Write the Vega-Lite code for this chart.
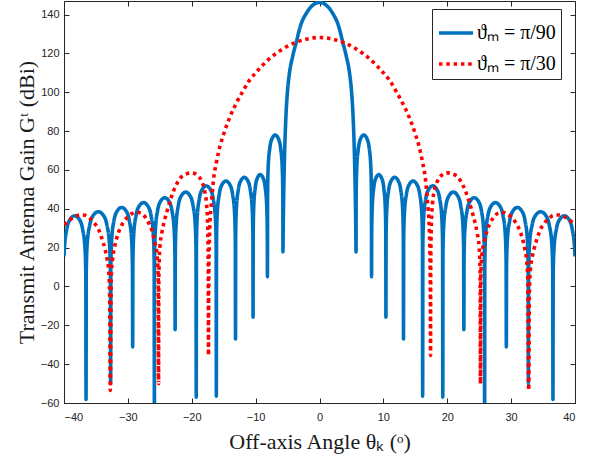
{
"$schema": "https://vega.github.io/schema/vega-lite/v6.json",
"width": 511, "height": 402,
"autosize": {"type": "none"},
"padding": {"left": 64, "top": 1, "right": 21, "bottom": 60},
"background": "white",
"config": {
 "view": {"stroke": null},
 "axis": {"domainColor": "#262626", "domainWidth": 1, "tickColor": "#262626", "tickWidth": 1, "tickSize": -5, "labelFont": "Liberation Sans", "labelFontSize": 11, "labelColor": "#262626", "titleFont": "Liberation Serif", "titleFontSize": 22, "titleFontWeight": "normal", "titleColor": "#1a1a1a", "grid": false}
},
"data": {"values": [
{"s":"π/90","x":-40,"g":15.5},{"s":"π/90","x":-39.923,"g":20.3},{"s":"π/90","x":-39.568,"g":29.5},{"s":"π/90","x":-39.035,"g":34.6},{"s":"π/90","x":-38.325,"g":36.4},{"s":"π/90","x":-37.615,"g":34.6},{"s":"π/90","x":-37.083,"g":29.5},{"s":"π/90","x":-36.728,"g":20.3},{"s":"π/90","x":-36.586,"g":6.3},{"s":"π/90","x":-36.55,"g":-58.2},
{"s":"π/90","x":-36.512,"g":8.4},{"s":"π/90","x":-36.358,"g":22.4},{"s":"π/90","x":-35.973,"g":31.6},{"s":"π/90","x":-35.395,"g":36.7},{"s":"π/90","x":-34.625,"g":38.5},{"s":"π/90","x":-33.855,"g":36.7},{"s":"π/90","x":-33.278,"g":31.6},{"s":"π/90","x":-32.893,"g":22.4},{"s":"π/90","x":-32.739,"g":8.4},{"s":"π/90","x":-32.7,"g":-50},
{"s":"π/90","x":-32.666,"g":10.6},{"s":"π/90","x":-32.528,"g":24.6},{"s":"π/90","x":-32.183,"g":33.8},{"s":"π/90","x":-31.665,"g":38.9},{"s":"π/90","x":-30.975,"g":40.7},{"s":"π/90","x":-30.285,"g":38.9},{"s":"π/90","x":-29.768,"g":33.8},{"s":"π/90","x":-29.423,"g":24.6},{"s":"π/90","x":-29.285,"g":10.6},{"s":"π/90","x":-29.25,"g":-31.1},
{"s":"π/90","x":-29.216,"g":13.1},{"s":"π/90","x":-29.08,"g":27.1},{"s":"π/90","x":-28.74,"g":36.3},{"s":"π/90","x":-28.23,"g":41.4},{"s":"π/90","x":-27.55,"g":43.2},{"s":"π/90","x":-26.87,"g":41.4},{"s":"π/90","x":-26.36,"g":36.3},{"s":"π/90","x":-26.02,"g":27.1},{"s":"π/90","x":-25.884,"g":13.1},{"s":"π/90","x":-25.85,"g":-75},
{"s":"π/90","x":-25.818,"g":15.6},{"s":"π/90","x":-25.688,"g":29.6},{"s":"π/90","x":-25.363,"g":38.8},{"s":"π/90","x":-24.875,"g":43.9},{"s":"π/90","x":-24.225,"g":45.7},{"s":"π/90","x":-23.575,"g":43.9},{"s":"π/90","x":-23.088,"g":38.8},{"s":"π/90","x":-22.763,"g":29.6},{"s":"π/90","x":-22.633,"g":15.6},{"s":"π/90","x":-22.6,"g":-22.2},
{"s":"π/90","x":-22.567,"g":18.5},{"s":"π/90","x":-22.435,"g":32.5},{"s":"π/90","x":-22.105,"g":41.7},{"s":"π/90","x":-21.61,"g":46.8},{"s":"π/90","x":-20.95,"g":48.6},{"s":"π/90","x":-20.29,"g":46.8},{"s":"π/90","x":-19.795,"g":41.7},{"s":"π/90","x":-19.465,"g":32.5},{"s":"π/90","x":-19.333,"g":18.5},{"s":"π/90","x":-19.3,"g":-57},
{"s":"π/90","x":-19.269,"g":21.7},{"s":"π/90","x":-19.143,"g":35.7},{"s":"π/90","x":-18.828,"g":44.9},{"s":"π/90","x":-18.355,"g":50.0},{"s":"π/90","x":-17.725,"g":51.8},{"s":"π/90","x":-17.095,"g":50.0},{"s":"π/90","x":-16.623,"g":44.9},{"s":"π/90","x":-16.308,"g":35.7},{"s":"π/90","x":-16.182,"g":21.7},{"s":"π/90","x":-16.15,"g":-56.5},
{"s":"π/90","x":-16.12,"g":24.2},{"s":"π/90","x":-16.0,"g":38.2},{"s":"π/90","x":-15.7,"g":47.4},{"s":"π/90","x":-15.25,"g":52.5},{"s":"π/90","x":-14.65,"g":54.3},{"s":"π/90","x":-14.05,"g":52.5},{"s":"π/90","x":-13.6,"g":47.4},{"s":"π/90","x":-13.3,"g":38.2},{"s":"π/90","x":-13.18,"g":24.2},{"s":"π/90","x":-13.15,"g":-27},
{"s":"π/90","x":-13.123,"g":26.1},{"s":"π/90","x":-13.013,"g":40.1},{"s":"π/90","x":-12.738,"g":49.3},{"s":"π/90","x":-12.325,"g":54.4},{"s":"π/90","x":-11.775,"g":56.2},{"s":"π/90","x":-11.225,"g":54.4},{"s":"π/90","x":-10.813,"g":49.3},{"s":"π/90","x":-10.538,"g":40.1},{"s":"π/90","x":-10.428,"g":26.1},{"s":"π/90","x":-10.4,"g":-15.8},
{"s":"π/90","x":-10.378,"g":27.5},{"s":"π/90","x":-10.288,"g":41.5},{"s":"π/90","x":-10.063,"g":50.7},{"s":"π/90","x":-9.725,"g":55.8},{"s":"π/90","x":-9.275,"g":57.6},{"s":"π/90","x":-8.825,"g":55.8},{"s":"π/90","x":-8.488,"g":50.7},{"s":"π/90","x":-8.263,"g":41.5},{"s":"π/90","x":-8.173,"g":27.5},{"s":"π/90","x":-8.15,"g":5.0},
{"s":"π/90","x":-8.126,"g":47.9},{"s":"π/90","x":-8.029,"g":61.9},{"s":"π/90","x":-7.786,"g":71.1},{"s":"π/90","x":-7.421,"g":76.2},{"s":"π/90","x":-6.935,"g":78},{"s":"π/90","x":-6.449,"g":76.2},{"s":"π/90","x":-6.085,"g":71.1},{"s":"π/90","x":-5.842,"g":61.9},{"s":"π/90","x":-5.744,"g":47.9},{"s":"π/90","x":-5.72,"g":17.8},
{"s":"π/90","x":-5.68,"g":30},{"s":"π/90","x":-5.6,"g":48},{"s":"π/90","x":-5.45,"g":70},{"s":"π/90","x":-5.25,"g":88},{"s":"π/90","x":-5.0,"g":101},{"s":"π/90","x":-4.7,"g":110},{"s":"π/90","x":-4.2,"g":118.5},{"s":"π/90","x":-3.65,"g":125.6},{"s":"π/90","x":-3,"g":134},{"s":"π/90","x":-2,"g":141},{"s":"π/90","x":-1,"g":145},
{"s":"π/90","x":0,"g":146.3},
{"s":"π/90","x":1,"g":145},{"s":"π/90","x":2,"g":141},{"s":"π/90","x":3,"g":134},{"s":"π/90","x":3.65,"g":125.6},{"s":"π/90","x":4.2,"g":118.5},{"s":"π/90","x":4.7,"g":110},{"s":"π/90","x":5.0,"g":101},{"s":"π/90","x":5.25,"g":88},{"s":"π/90","x":5.45,"g":70},{"s":"π/90","x":5.6,"g":48},{"s":"π/90","x":5.68,"g":30},
{"s":"π/90","x":5.72,"g":17.8},{"s":"π/90","x":5.744,"g":47.9},{"s":"π/90","x":5.842,"g":61.9},{"s":"π/90","x":6.085,"g":71.1},{"s":"π/90","x":6.449,"g":76.2},{"s":"π/90","x":6.935,"g":78},{"s":"π/90","x":7.421,"g":76.2},{"s":"π/90","x":7.786,"g":71.1},{"s":"π/90","x":8.029,"g":61.9},{"s":"π/90","x":8.126,"g":47.9},
{"s":"π/90","x":8.15,"g":5.0},{"s":"π/90","x":8.173,"g":27.5},{"s":"π/90","x":8.263,"g":41.5},{"s":"π/90","x":8.488,"g":50.7},{"s":"π/90","x":8.825,"g":55.8},{"s":"π/90","x":9.275,"g":57.6},{"s":"π/90","x":9.725,"g":55.8},{"s":"π/90","x":10.063,"g":50.7},{"s":"π/90","x":10.288,"g":41.5},{"s":"π/90","x":10.378,"g":27.5},
{"s":"π/90","x":10.4,"g":-15.8},{"s":"π/90","x":10.428,"g":26.1},{"s":"π/90","x":10.538,"g":40.1},{"s":"π/90","x":10.813,"g":49.3},{"s":"π/90","x":11.225,"g":54.4},{"s":"π/90","x":11.775,"g":56.2},{"s":"π/90","x":12.325,"g":54.4},{"s":"π/90","x":12.738,"g":49.3},{"s":"π/90","x":13.013,"g":40.1},{"s":"π/90","x":13.123,"g":26.1},
{"s":"π/90","x":13.15,"g":-27},{"s":"π/90","x":13.18,"g":24.2},{"s":"π/90","x":13.3,"g":38.2},{"s":"π/90","x":13.6,"g":47.4},{"s":"π/90","x":14.05,"g":52.5},{"s":"π/90","x":14.65,"g":54.3},{"s":"π/90","x":15.25,"g":52.5},{"s":"π/90","x":15.7,"g":47.4},{"s":"π/90","x":16.0,"g":38.2},{"s":"π/90","x":16.12,"g":24.2},
{"s":"π/90","x":16.15,"g":-56.5},{"s":"π/90","x":16.182,"g":21.7},{"s":"π/90","x":16.308,"g":35.7},{"s":"π/90","x":16.623,"g":44.9},{"s":"π/90","x":17.095,"g":50.0},{"s":"π/90","x":17.725,"g":51.8},{"s":"π/90","x":18.355,"g":50.0},{"s":"π/90","x":18.828,"g":44.9},{"s":"π/90","x":19.143,"g":35.7},{"s":"π/90","x":19.269,"g":21.7},
{"s":"π/90","x":19.3,"g":-57},{"s":"π/90","x":19.333,"g":18.5},{"s":"π/90","x":19.465,"g":32.5},{"s":"π/90","x":19.795,"g":41.7},{"s":"π/90","x":20.29,"g":46.8},{"s":"π/90","x":20.95,"g":48.6},{"s":"π/90","x":21.61,"g":46.8},{"s":"π/90","x":22.105,"g":41.7},{"s":"π/90","x":22.435,"g":32.5},{"s":"π/90","x":22.567,"g":18.5},
{"s":"π/90","x":22.6,"g":-22.2},{"s":"π/90","x":22.633,"g":15.6},{"s":"π/90","x":22.763,"g":29.6},{"s":"π/90","x":23.088,"g":38.8},{"s":"π/90","x":23.575,"g":43.9},{"s":"π/90","x":24.225,"g":45.7},{"s":"π/90","x":24.875,"g":43.9},{"s":"π/90","x":25.363,"g":38.8},{"s":"π/90","x":25.688,"g":29.6},{"s":"π/90","x":25.818,"g":15.6},
{"s":"π/90","x":25.85,"g":-75},{"s":"π/90","x":25.884,"g":13.1},{"s":"π/90","x":26.02,"g":27.1},{"s":"π/90","x":26.36,"g":36.3},{"s":"π/90","x":26.87,"g":41.4},{"s":"π/90","x":27.55,"g":43.2},{"s":"π/90","x":28.23,"g":41.4},{"s":"π/90","x":28.74,"g":36.3},{"s":"π/90","x":29.08,"g":27.1},{"s":"π/90","x":29.216,"g":13.1},
{"s":"π/90","x":29.25,"g":-31.1},{"s":"π/90","x":29.285,"g":10.6},{"s":"π/90","x":29.423,"g":24.6},{"s":"π/90","x":29.768,"g":33.8},{"s":"π/90","x":30.285,"g":38.9},{"s":"π/90","x":30.975,"g":40.7},{"s":"π/90","x":31.665,"g":38.9},{"s":"π/90","x":32.183,"g":33.8},{"s":"π/90","x":32.528,"g":24.6},{"s":"π/90","x":32.666,"g":10.6},
{"s":"π/90","x":32.7,"g":-50},{"s":"π/90","x":32.739,"g":8.4},{"s":"π/90","x":32.893,"g":22.4},{"s":"π/90","x":33.278,"g":31.6},{"s":"π/90","x":33.855,"g":36.7},{"s":"π/90","x":34.625,"g":38.5},{"s":"π/90","x":35.395,"g":36.7},{"s":"π/90","x":35.973,"g":31.6},{"s":"π/90","x":36.358,"g":22.4},{"s":"π/90","x":36.512,"g":8.4},
{"s":"π/90","x":36.55,"g":-58.2},{"s":"π/90","x":36.586,"g":6.3},{"s":"π/90","x":36.728,"g":20.3},{"s":"π/90","x":37.083,"g":29.5},{"s":"π/90","x":37.615,"g":34.6},{"s":"π/90","x":38.325,"g":36.4},{"s":"π/90","x":39.035,"g":34.6},{"s":"π/90","x":39.568,"g":29.5},{"s":"π/90","x":39.923,"g":20.3},{"s":"π/90","x":40,"g":15.5},

{"s":"π/30","x":-40,"g":31.8},{"s":"π/30","x":-39.5,"g":33.3},{"s":"π/30","x":-39.0,"g":34.5},{"s":"π/30","x":-38.3,"g":36},{"s":"π/30","x":-37.5,"g":36.8},{"s":"π/30","x":-36.7,"g":36.7},{"s":"π/30","x":-35.9,"g":35},{"s":"π/30","x":-35.2,"g":32.5},{"s":"π/30","x":-34.6,"g":29.5},{"s":"π/30","x":-34.1,"g":25},{"s":"π/30","x":-33.6,"g":19.5},{"s":"π/30","x":-33.3,"g":15},{"s":"π/30","x":-33.0,"g":8},{"s":"π/30","x":-32.85,"g":-5},{"s":"π/30","x":-32.75,"g":-53.5},
{"s":"π/30","x":-32.6,"g":5},{"s":"π/30","x":-32.4,"g":14},{"s":"π/30","x":-32.1,"g":20},{"s":"π/30","x":-31.7,"g":25.5},{"s":"π/30","x":-31.2,"g":30},{"s":"π/30","x":-30.6,"g":33.5},{"s":"π/30","x":-30.0,"g":35.8},{"s":"π/30","x":-29.3,"g":37.6},{"s":"π/30","x":-28.6,"g":38.2},{"s":"π/30","x":-28.0,"g":37.8},{"s":"π/30","x":-27.3,"g":35.8},{"s":"π/30","x":-26.7,"g":32.5},{"s":"π/30","x":-26.2,"g":28.5},{"s":"π/30","x":-25.8,"g":23},{"s":"π/30","x":-25.45,"g":17},{"s":"π/30","x":-25.25,"g":5},{"s":"π/30","x":-25.2,"g":-50},
{"s":"π/30","x":-25.15,"g":5},{"s":"π/30","x":-25.0,"g":20},{"s":"π/30","x":-24.7,"g":27.3},{"s":"π/30","x":-24.3,"g":33.5},{"s":"π/30","x":-23.8,"g":39.5},{"s":"π/30","x":-23.2,"g":46},{"s":"π/30","x":-22.4,"g":52.5},{"s":"π/30","x":-21.6,"g":56.5},{"s":"π/30","x":-20.8,"g":58},{"s":"π/30","x":-20.0,"g":58.5},{"s":"π/30","x":-19.2,"g":57.5},{"s":"π/30","x":-18.5,"g":54.5},{"s":"π/30","x":-18.0,"g":49.5},{"s":"π/30","x":-17.7,"g":43},{"s":"π/30","x":-17.5,"g":30},{"s":"π/30","x":-17.42,"g":12},{"s":"π/30","x":-17.38,"g":-35.5},
{"s":"π/30","x":-17.36,"g":-15},{"s":"π/30","x":-17.32,"g":8},{"s":"π/30","x":-17.25,"g":22},{"s":"π/30","x":-17.15,"g":33},{"s":"π/30","x":-17.0,"g":40},{"s":"π/30","x":-16.8,"g":47.9},{"s":"π/30","x":-16.6,"g":54.8},{"s":"π/30","x":-16.1,"g":64.5},{"s":"π/30","x":-15.6,"g":72},{"s":"π/30","x":-15,"g":78.5},{"s":"π/30","x":-14,"g":87.5},{"s":"π/30","x":-13,"g":94.5},{"s":"π/30","x":-12,"g":100.5},{"s":"π/30","x":-11,"g":106},{"s":"π/30","x":-10,"g":110},{"s":"π/30","x":-8,"g":116.8},{"s":"π/30","x":-6,"g":121.8},{"s":"π/30","x":-4,"g":125.3},{"s":"π/30","x":-2,"g":127.4},
{"s":"π/30","x":0,"g":128.2},
{"s":"π/30","x":2,"g":127.4},{"s":"π/30","x":4,"g":125.3},{"s":"π/30","x":6,"g":121.8},{"s":"π/30","x":8,"g":116.8},{"s":"π/30","x":10,"g":110},{"s":"π/30","x":11,"g":106},{"s":"π/30","x":12,"g":100.5},{"s":"π/30","x":13,"g":94.5},{"s":"π/30","x":14,"g":87.5},{"s":"π/30","x":15,"g":78.5},{"s":"π/30","x":15.6,"g":72},{"s":"π/30","x":16.1,"g":64.5},{"s":"π/30","x":16.6,"g":54.8},{"s":"π/30","x":16.8,"g":47.9},{"s":"π/30","x":17.0,"g":40},{"s":"π/30","x":17.15,"g":33},{"s":"π/30","x":17.25,"g":22},{"s":"π/30","x":17.32,"g":8},{"s":"π/30","x":17.36,"g":-15},
{"s":"π/30","x":17.38,"g":-35.5},{"s":"π/30","x":17.42,"g":12},{"s":"π/30","x":17.5,"g":30},{"s":"π/30","x":17.7,"g":43},{"s":"π/30","x":18.0,"g":49.5},{"s":"π/30","x":18.5,"g":54.5},{"s":"π/30","x":19.2,"g":57.5},{"s":"π/30","x":20.0,"g":58.5},{"s":"π/30","x":20.8,"g":58},{"s":"π/30","x":21.6,"g":56.5},{"s":"π/30","x":22.4,"g":52.5},{"s":"π/30","x":23.2,"g":46},{"s":"π/30","x":23.8,"g":39.5},{"s":"π/30","x":24.3,"g":33.5},{"s":"π/30","x":24.7,"g":27.3},{"s":"π/30","x":25.0,"g":20},{"s":"π/30","x":25.15,"g":5},
{"s":"π/30","x":25.2,"g":-50},{"s":"π/30","x":25.25,"g":5},{"s":"π/30","x":25.45,"g":17},{"s":"π/30","x":25.8,"g":23},{"s":"π/30","x":26.2,"g":28.5},{"s":"π/30","x":26.7,"g":32.5},{"s":"π/30","x":27.3,"g":35.8},{"s":"π/30","x":28.0,"g":37.8},{"s":"π/30","x":28.6,"g":38.2},{"s":"π/30","x":29.3,"g":37.6},{"s":"π/30","x":30.0,"g":35.8},{"s":"π/30","x":30.6,"g":33.5},{"s":"π/30","x":31.2,"g":30},{"s":"π/30","x":31.7,"g":25.5},{"s":"π/30","x":32.1,"g":20},{"s":"π/30","x":32.4,"g":14},{"s":"π/30","x":32.6,"g":5},
{"s":"π/30","x":32.75,"g":-53.5},{"s":"π/30","x":32.85,"g":-5},{"s":"π/30","x":33.0,"g":8},{"s":"π/30","x":33.3,"g":15},{"s":"π/30","x":33.6,"g":19.5},{"s":"π/30","x":34.1,"g":25},{"s":"π/30","x":34.6,"g":29.5},{"s":"π/30","x":35.2,"g":32.5},{"s":"π/30","x":35.9,"g":35},{"s":"π/30","x":36.7,"g":36.7},{"s":"π/30","x":37.5,"g":36.8},{"s":"π/30","x":38.3,"g":36},{"s":"π/30","x":39.0,"g":34.5},{"s":"π/30","x":39.5,"g":33.3},{"s":"π/30","x":40.0,"g":31.8}
]},
"layer": [
 {
  "transform": [{"filter": "datum.s == 'π/90'"}],
  "mark": {"type": "line", "clip": true, "strokeWidth": 3.6, "interpolate": "monotone"},
  "encoding": {
   "x": {"field": "x", "type": "quantitative", "scale": {"domain": [-40, 40], "nice": false, "zero": false},
     "axis": {"orient": "bottom", "values": [-40,-30,-20,-10,0,10,20,30,40], "labelPadding": 13, "title": "Off-axis Angle θₖ (ᵒ)", "titlePadding": 9}},
   "y": {"field": "g", "type": "quantitative", "scale": {"domain": [-60, 147], "nice": false, "zero": false},
     "axis": {"orient": "left", "values": [-60,-40,-20,0,20,40,60,80,100,120,140], "labelPadding": 10, "title": "Transmit Antenna Gain Gᵗ (dBi)", "titlePadding": 2}},
   "color": {"field": "s", "type": "nominal", "scale": {"domain": ["π/90", "π/30"], "range": ["#0072BD", "#FF0000"]},
     "legend": {"orient": "none", "legendX": 368, "legendY": 8, "title": null, "labelExpr": "'ϑₘ = ' + datum.label", "strokeColor": "#262626", "fillColor": "white", "padding": 5, "symbolType": "stroke", "symbolSize": 1156, "symbolStrokeWidth": 3.6, "labelFont": "Liberation Serif", "labelFontSize": 20, "labelColor": "black", "labelOffset": 2, "rowPadding": 2}},
   "strokeDash": {"field": "s", "type": "nominal", "scale": {"domain": ["π/90", "π/30"], "range": [[1, 0], [3.5, 3.8]]},
     "legend": {"orient": "none", "legendX": 368, "legendY": 8, "title": null, "labelExpr": "'ϑₘ = ' + datum.label", "strokeColor": "#262626", "fillColor": "white", "padding": 5, "symbolType": "stroke", "symbolSize": 1156, "symbolStrokeWidth": 3.6, "labelFont": "Liberation Serif", "labelFontSize": 20, "labelColor": "black", "labelOffset": 2, "rowPadding": 2}}
  }
 },
 {
  "transform": [{"filter": "datum.s == 'π/30'"}],
  "mark": {"type": "line", "clip": true, "strokeWidth": 3.6, "interpolate": "monotone"},
  "encoding": {
   "x": {"field": "x", "type": "quantitative", "scale": {"domain": [-40, 40], "nice": false, "zero": false},
     "axis": {"orient": "top", "values": [-40,-30,-20,-10,0,10,20,30,40], "labels": false, "title": null}},
   "y": {"field": "g", "type": "quantitative", "scale": {"domain": [-60, 147], "nice": false, "zero": false},
     "axis": {"orient": "right", "values": [-60,-40,-20,0,20,40,60,80,100,120,140], "labels": false, "title": null}},
   "color": {"field": "s", "type": "nominal", "scale": {"domain": ["π/90", "π/30"], "range": ["#0072BD", "#FF0000"]},
     "legend": {"orient": "none", "legendX": 368, "legendY": 8, "title": null, "labelExpr": "'ϑₘ = ' + datum.label", "strokeColor": "#262626", "fillColor": "white", "padding": 5, "symbolType": "stroke", "symbolSize": 1156, "symbolStrokeWidth": 3.6, "labelFont": "Liberation Serif", "labelFontSize": 20, "labelColor": "black", "labelOffset": 2, "rowPadding": 2}},
   "strokeDash": {"field": "s", "type": "nominal", "scale": {"domain": ["π/90", "π/30"], "range": [[1, 0], [3.5, 3.8]]},
     "legend": {"orient": "none", "legendX": 368, "legendY": 8, "title": null, "labelExpr": "'ϑₘ = ' + datum.label", "strokeColor": "#262626", "fillColor": "white", "padding": 5, "symbolType": "stroke", "symbolSize": 1156, "symbolStrokeWidth": 3.6, "labelFont": "Liberation Serif", "labelFontSize": 20, "labelColor": "black", "labelOffset": 2, "rowPadding": 2}}
  }
 }
],
"resolve": {"axis": {"x": "independent", "y": "independent"}}
}
